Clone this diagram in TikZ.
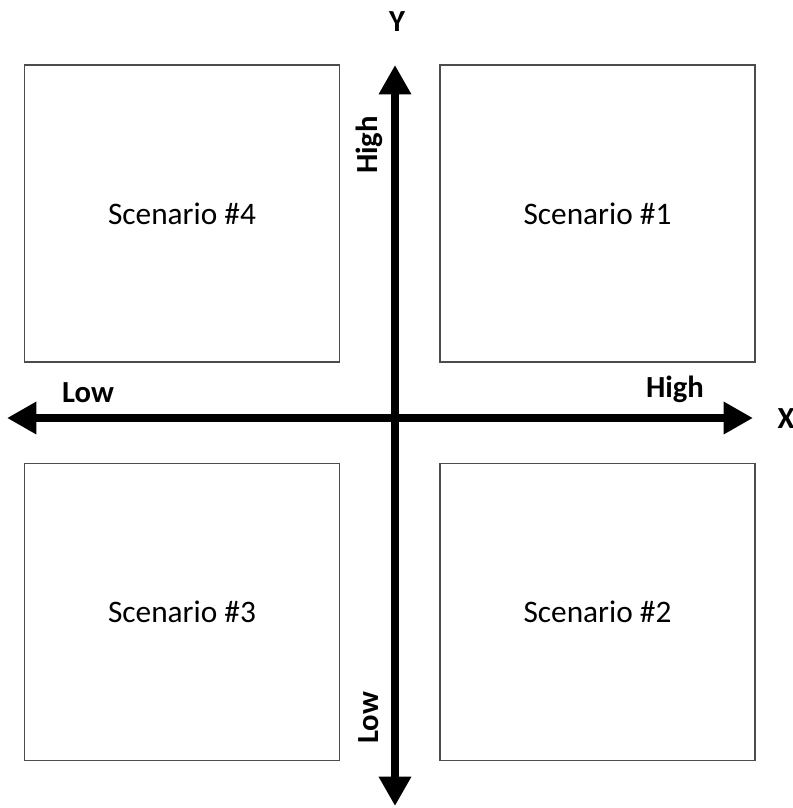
\documentclass[tikz,border=0pt]{standalone}
\usepackage{fontspec}
\setmainfont{Carlito}
\usepackage{tikz}
\usetikzlibrary{arrows.meta,positioning,calc}

\begin{document}
\begin{tikzpicture}[x=0.75pt, y=-0.75pt,
    scenbox/.style={draw=black!70, line width=1.1pt, minimum width=236pt, minimum height=223pt, inner sep=0pt, font=\fontsize{23.5}{28}\selectfont},
    axis/.style={line width=6pt, -{Triangle[length=22pt, width=23pt]}},
    lbl/.style={font=\fontsize{23}{28}\selectfont\bfseries}]
    \useasboundingbox (0, 0) rectangle (793, 808);

    % Quadrants
    \node[scenbox] (s4) at (182, 213.5) {Scenario \#4};
    \node[scenbox] (s1) at (597.5, 213.5) {Scenario \#1};
    \node[scenbox] (s3) at (182, 612) {Scenario \#3};
    \node[scenbox] (s2) at (597.5, 612) {Scenario \#2};

    % Axes
    \coordinate (o) at (395, 418);
    \coordinate (ytop) at (395, 65);
    \coordinate (ybot) at (395, 806);
    \coordinate (xleft) at (7, 418);
    \coordinate (xright) at (753, 418);
    \draw[axis] (o) -- (ytop);
    \draw[axis] (o) -- (ybot);
    \draw[axis] (o) -- (xleft);
    \draw[axis] (o) -- (xright);

    % Axis labels
    \node[lbl] (ylab) at (397, 22) {Y};
    \node[lbl] (xlab) at (786, 419) {X};
    \node[lbl, rotate=90] (yhigh) at (369, 145) {High};
    \node[lbl, rotate=90] (ylow) at (369, 718) {Low};
    \node[lbl] (xlow) at (88, 393) {Low};
    \node[lbl] (xhigh) at (675, 389) {High};
\end{tikzpicture}
\end{document}
